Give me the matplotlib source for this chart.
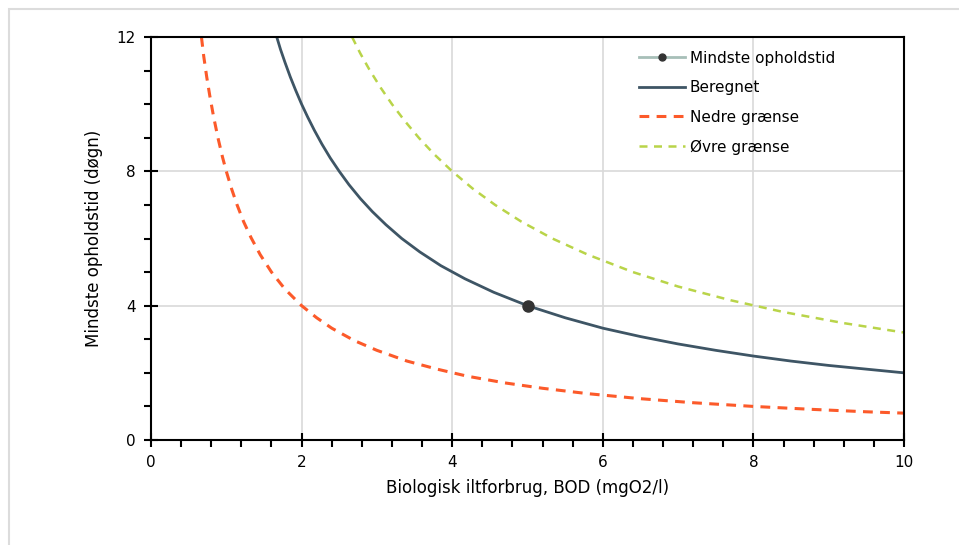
import matplotlib
matplotlib.use("Agg")
import matplotlib.pyplot as plt
from matplotlib.patches import Rectangle
from matplotlib.lines import Line2D
from matplotlib.ticker import MultipleLocator

# values
beregnet_x = [1.67, 1.72, 1.78, 1.85, 1.92, 2.0, 2.08, 2.17, 2.27, 2.38, 2.5, 2.63, 2.78, 2.94, 3.12, 3.33,
              3.57, 3.85, 4.17, 4.55, 5.0, 5.5, 6.0, 6.5, 7.0, 7.5, 8.0, 8.5, 9.0, 9.5, 10.0]
beregnet_y = [12.0, 11.63, 11.24, 10.81, 10.42, 10.0, 9.62, 9.22, 8.81, 8.40, 8.0, 7.60, 7.19, 6.80, 6.41, 6.0,
              5.60, 5.19, 4.80, 4.40, 4.0, 3.64, 3.33, 3.08, 2.86, 2.67, 2.5, 2.35, 2.22, 2.11, 2.0]

nedre_x = [0.67, 0.70, 0.74, 0.78, 0.83, 0.89, 0.95, 1.0, 1.07, 1.14, 1.23, 1.33, 1.45, 1.6, 1.78, 2.0,
           2.2, 2.4, 2.7, 3.0, 3.4, 3.8, 4.2, 4.7, 5.2, 5.8, 6.5, 7.2, 8.0, 8.8, 9.5, 10.0]
nedre_y = [12.0, 11.43, 10.81, 10.26, 9.64, 8.99, 8.42, 8.0, 7.48, 7.02, 6.50, 6.02, 5.52, 5.0, 4.49, 4.0,
           3.64, 3.33, 2.96, 2.67, 2.35, 2.11, 1.90, 1.70, 1.54, 1.38, 1.23, 1.11, 1.0, 0.91, 0.84, 0.8]

ovre_x = [2.67, 2.78, 2.9, 3.05, 3.2, 3.37, 3.56, 3.76, 4.0, 4.27, 4.57, 4.92, 5.33, 5.8, 6.4, 7.0,
          7.7, 8.4, 9.2, 10.0]
ovre_y = [12.0, 11.51, 11.03, 10.49, 10.0, 9.50, 8.99, 8.51, 8.0, 7.49, 7.00, 6.50, 6.0, 5.52, 5.0, 4.57,
          4.16, 3.81, 3.48, 3.2]

punkt_x = [5.0]
punkt_y = [4.0]

plt.rcParams['font.family'] = ['DejaVu Sans']
fig = plt.figure(figsize=(9.59, 5.45), dpi=100)
fig.patches.append(Rectangle((9 / 959, -0.1), 1.1, 1 - 9 / 545 + 0.1, transform=fig.transFigure,
                             fill=False, edgecolor='#dcdcdc', linewidth=1.5))
ax = fig.add_axes([151 / 959, 1 - 440 / 545, (904 - 151) / 959, (440 - 37) / 545])

ax.plot(nedre_x, nedre_y, color='#fc5a2a', lw=2.2, linestyle=(0, (3.2, 2.4)), label='Nedre grænse')
ax.plot(ovre_x, ovre_y, color='#b9d449', lw=1.8, linestyle=(0, (3.2, 2.6)), label='Øvre grænse')
ax.plot(beregnet_x, beregnet_y, color='#3e5565', lw=2, label='Beregnet')
ax.plot(punkt_x, punkt_y, 'o', color='#333333', markersize=8, zorder=5)

ax.set_xlim(0, 10)
ax.set_ylim(0, 12)
ax.xaxis.set_major_locator(MultipleLocator(2))
ax.xaxis.set_minor_locator(MultipleLocator(0.4))
ax.yaxis.set_major_locator(MultipleLocator(4))
ax.yaxis.set_minor_locator(MultipleLocator(1))
ax.tick_params(which='major', direction='inout', length=10, width=1.5, labelsize=11, pad=6)
ax.tick_params(which='minor', direction='out', length=5, width=1.5)
ax.grid(True, which='major', color='#d9d9d9', lw=1.2)
ax.set_axisbelow(True)
for s in ax.spines.values():
    s.set_linewidth(1.5)

ax.set_xlabel('Biologisk iltforbrug, BOD (mgO2/l)', fontsize=12, labelpad=6)
ax.set_ylabel('Mindste opholdstid (døgn)', fontsize=12, labelpad=10)

handles = [
    Line2D([], [], color='#a7bfb8', lw=2, marker='o', markersize=5, markerfacecolor='#333333',
           markeredgecolor='#333333'),
    Line2D([], [], color='#3e5565', lw=2),
    Line2D([], [], color='#fc5a2a', lw=2.2, linestyle=(0, (3.2, 2.4))),
    Line2D([], [], color='#b9d449', lw=1.8, linestyle=(0, (3.2, 2.6))),
]
labels = ['Mindste opholdstid', 'Beregnet', 'Nedre grænse', 'Øvre grænse']
ax.legend(handles, labels, loc='upper left', bbox_to_anchor=(0.63, 1.0), frameon=False,
          fontsize=11, handlelength=3, handletextpad=0.3, labelspacing=0.95)

fig.savefig('out.png', dpi=100)
